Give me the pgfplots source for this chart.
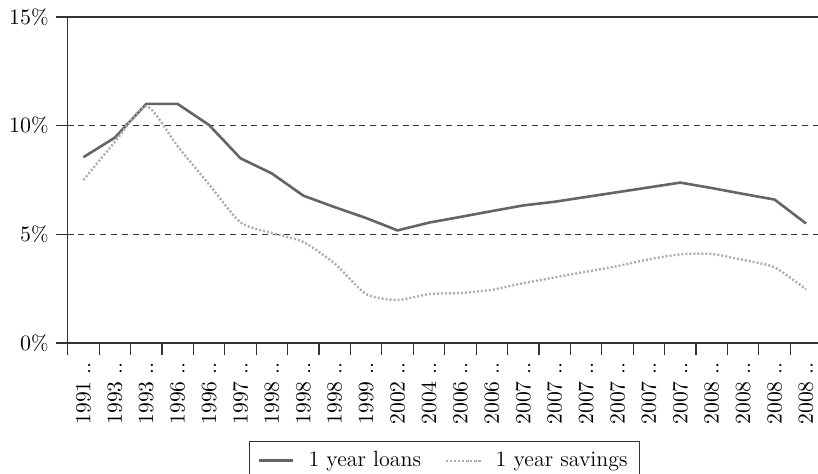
\documentclass[border=0pt]{standalone}
\usepackage{pgfplots}
\pgfplotsset{compat=1.18}
\definecolor{loancol}{HTML}{656565}
\definecolor{savecol}{HTML}{ADADAD}
\definecolor{axiscol}{HTML}{333333}

\begin{document}
\begin{tikzpicture}
\begin{axis}[
    name=ax,
    scale only axis,
    width=377pt, height=163pt,
    xmin=-0.5, xmax=23.5,
    ymin=0, ymax=15,
    axis x line*=bottom, axis y line*=left,
    axis line style={axiscol, line width=0.6pt},
    xtick={0,...,23},
    xticklabels={1991 ..,1993 ..,1993 ..,1996 ..,1996 ..,1997 ..,1998 ..,1998 ..,1998 ..,1999 ..,2002 ..,2004 ..,2006 ..,2006 ..,2007 ..,2007 ..,2007 ..,2007 ..,2007 ..,2007 ..,2008 ..,2008 ..,2008 ..,2008 ..},
    major x tick style={draw=none},
    minor xtick={-0.5,0.5,...,23.5},
    ytick={0,5,10},
    ymajorgrids,
    major grid style={axiscol, line width=0.5pt, dash pattern=on 3pt off 2.4pt},
    extra y ticks={15},
    extra y tick style={grid=major, major grid style={solid, axiscol, line width=0.6pt}},
    tick align=outside,
    major tick length=6pt, minor tick length=6pt,
    tick style={axiscol, line width=0.6pt},
    yticklabel={\pgfmathprintnumber{\tick}\%},
    yticklabel style={font=\fontsize{10.5}{12}\selectfont},
    xticklabel style={rotate=90, anchor=east, font=\fontsize{10.8}{13}\selectfont},
    legend columns=2,
    legend cell align=left,
    legend style={at={(0.5,0)}, anchor=north, yshift=-49pt, draw=axiscol,
        line width=0.6pt, inner xsep=4pt, inner ysep=3pt,
        font=\fontsize{11}{13}\selectfont,
        /tikz/every odd column/.append style={column sep=5pt},
        /tikz/every even column/.append style={column sep=10pt}},
]
\addplot[loancol, line width=1.3pt] coordinates {
    (0,8.55) (1,9.45) (2,11.0) (3,11.0) (4,10.03) (5,8.5) (6,7.8) (7,6.78)
    (8,6.25) (9,5.75) (10,5.18) (11,5.54) (12,5.8) (13,6.07) (14,6.33) (15,6.5)
    (16,6.72) (17,6.94) (18,7.16) (19,7.38) (20,7.13) (21,6.86) (22,6.6) (23,5.5)
};
\addplot[savecol, line width=1.2pt, dash pattern=on 1pt off 1pt, smooth, tension=0.4] coordinates {
    (0,7.5) (1,9.25) (2,10.9) (3,9.05) (4,7.3) (5,5.55) (6,5.06) (7,4.65)
    (8,3.65) (9,2.25) (10,1.98) (11,2.25) (12,2.3) (13,2.45) (14,2.75) (15,3.02)
    (16,3.28) (17,3.54) (18,3.85) (19,4.08) (20,4.1) (21,3.82) (22,3.48) (23,2.47)
};
\legend{1 year loans, 1 year savings}
\end{axis}
\pgfresetboundingbox
\useasboundingbox ([xshift=-33.85pt, yshift=-65pt]ax.south west) rectangle ([xshift=375.15pt, yshift=171.5pt]ax.south west);
\end{tikzpicture}
\end{document}
